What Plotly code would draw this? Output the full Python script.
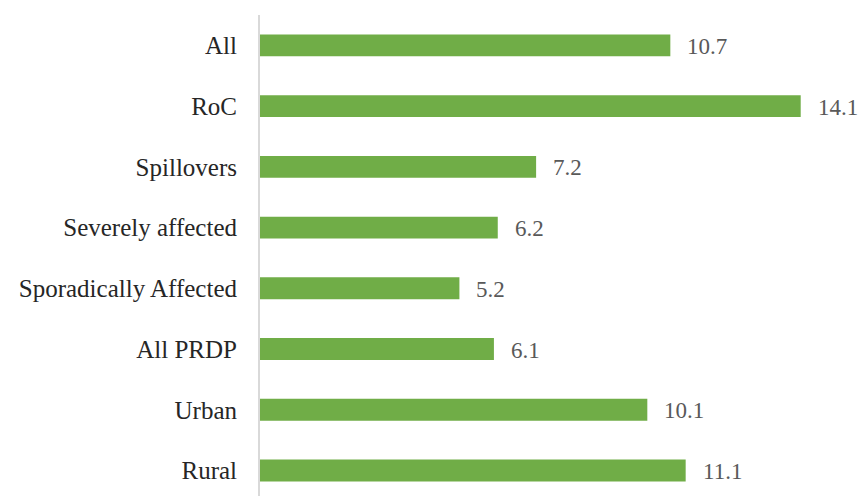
import plotly.graph_objects as go

categories = ["All", "RoC", "Spillovers", "Severely affected", "Sporadically Affected",
              "All PRDP", "Urban", "Rural"]
values = [10.7, 14.1, 7.2, 6.2, 5.2, 6.1, 10.1, 11.1]
value_labels = ["10.7", "14.1", "7.2", "6.2", "5.2", "6.1", "10.1", "11.1"]

SERIF = "'Liberation Serif', 'Times New Roman', 'DejaVu Serif', serif"

n = len(categories)
ypos = [n - 1 - i for i in range(n)]

fig = go.Figure()
fig.add_trace(go.Bar(
    x=values, y=ypos, orientation="h", width=0.36,
    marker=dict(color="#70AD47", line=dict(width=0)),
    hoverinfo="skip",
))

for v, y, t in zip(values, ypos, value_labels):
    fig.add_annotation(x=v, y=y, text=t, showarrow=False, xanchor="left",
                       xshift=15, yshift=-1,
                       font=dict(family=SERIF, size=23, color="#595959"))

fig.update_layout(
    width=859, height=496,
    margin=dict(l=260, r=0, t=15, b=0),
    paper_bgcolor="white", plot_bgcolor="white",
    showlegend=False,
    xaxis=dict(range=[0, 15.62], visible=False, fixedrange=True),
    yaxis=dict(
        range=[-0.42, 7.5], tickmode="array", tickvals=ypos, ticktext=categories,
        showline=True, linecolor="#d9d9d9", linewidth=2, showgrid=False, zeroline=False,
        ticks="", ticklabelstandoff=16, automargin=False,
        tickfont=dict(family=SERIF, size=25, color="#262626"),
    ),
)

fig.write_html("out.html")
